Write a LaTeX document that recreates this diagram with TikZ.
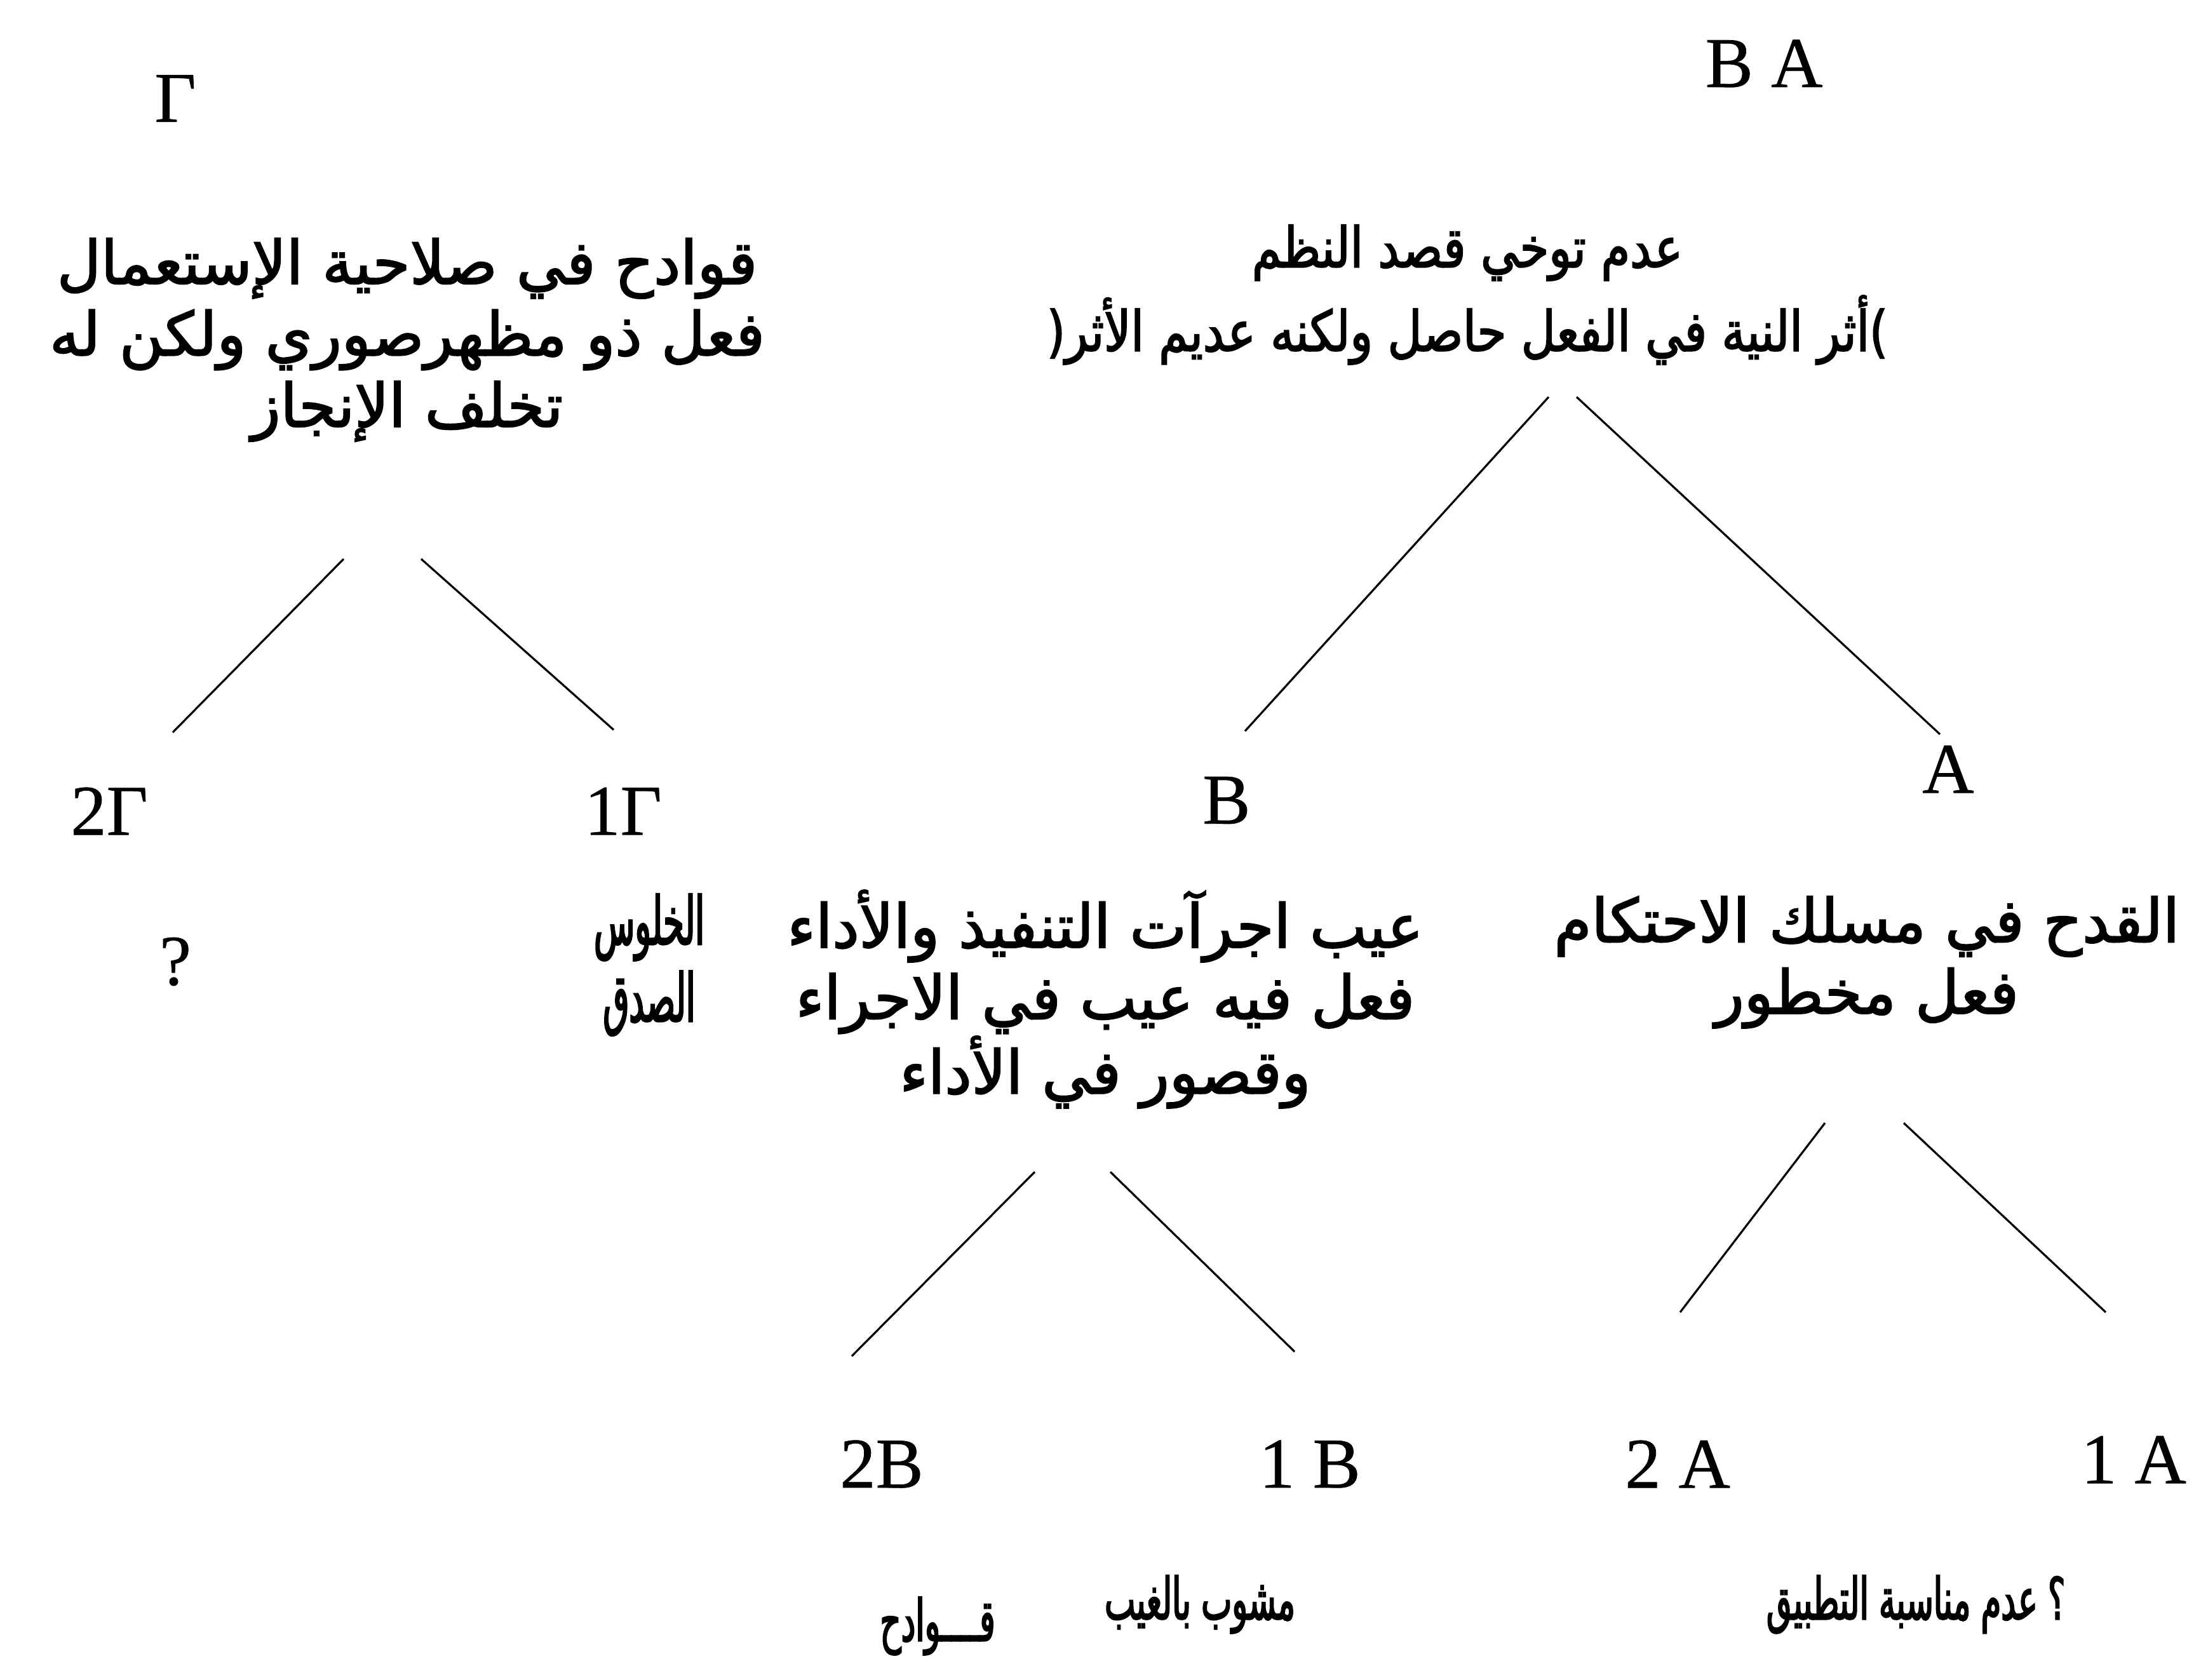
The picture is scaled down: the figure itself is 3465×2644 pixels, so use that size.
\documentclass[tikz,border=0pt]{standalone}
\usepackage{fontspec}
\setmainfont{Liberation Serif}[FakeBold=0.6]
\newfontfamily\arabicfont[Script=Arabic,FakeBold=2.2]{DejaVu Sans}
\newfontfamily\arabicmid[Script=Arabic,FakeBold=2.2,FakeStretch=0.84]{DejaVu Sans}
\newfontfamily\arabiccond[Script=Arabic,FakeBold=2.2,FakeStretch=0.56]{DejaVu Sans}
\newfontfamily\arabicnarrow[Script=Arabic,FakeBold=2.2,FakeStretch=0.5]{DejaVu Sans}
\TeXXeTstate=1
\usetikzlibrary{calc}
\newcommand{\artxt}[1]{{\beginR #1\endR}}
\begin{document}
\begin{tikzpicture}[x=0.01cm,y=-0.01cm,
  lat/.style={font=\fontsize{32}{38}\selectfont, inner sep=0pt},
  arb/.style={font=\arabicfont\fontsize{27}{32}\selectfont, align=center, inner sep=0pt},
  arbtop/.style={arb, font=\arabicmid\fontsize{25}{37.5}\selectfont},
  arbsmall/.style={arb, font=\arabiccond\fontsize{26}{34.5}\selectfont},
  arbnarrow/.style={arb, font=\arabicnarrow\fontsize{30}{34.5}\selectfont},
  link/.style={line width=0.9pt}]
\useasboundingbox (0,0) rectangle (3465,2644);
% top labels
\node[lat] (gam) at (276,155) {Γ};
\node[lat] (ba) at (2777,100) {B A};
% level 1 texts
\node[arb] (lt) at (641,535) {\artxt{قوادح في صلاحية الإستعمال}\\\artxt{فعل ذو مظهرصوري ولكن له}\\\artxt{تخلف الإنجاز}};
\node[arbtop] (rt) at (2310,464) {\artxt{عدم توخي قصد النظم}\\\artxt{)أثر النية في الفعل حاصل ولكنه عديم الأثر(}};
% level 2 labels
\node[lat] (g2) at (172,1277) {2Γ};
\node[lat] (g1) at (981,1277) {1Γ};
\node[lat] (nB) at (1931,1260) {B};
\node[lat] (nA) at (3067,1211) {A};
\node[lat] (q) at (276,1514) {?};
\node[arbnarrow] (khl) at (1022,1519) {\artxt{الخلوس}\\\artxt{الصدق}};
\node[arb] (bt) at (1740,1573) {\artxt{عيب اجرآت التنفيذ والأداء}\\\artxt{فعل فيه عيب في الاجراء}\\\artxt{وقصور في الأداء}};
\node[arb] (at) at (2939,1515) {\artxt{القدح في مسلك الاحتكام}\\\artxt{فعل مخطور}};
% level 3 labels
\node[lat] (b2) at (1388,2305) {2B};
\node[lat] (b1) at (2062,2305) {1 B};
\node[lat] (a2) at (2641,2305) {2 A};
\node[lat] (a1) at (3359,2298) {1 A};
\node[arbsmall] (l1) at (1476,2560) {\artxt{قــــوادح}};
\node[arbsmall] (l2) at (1889,2526) {\artxt{مشوب بالغيب}};
\node[arbsmall] (l3) at (3016,2526) {\artxt{؟ عدم مناسبة التطبيق}};
% connectors
\draw[link] ($(lt)+(-100,345)$) -- ($(g2)+(100,-124)$);
\draw[link] ($(lt)+(22,345)$) -- ($(g1)+(-15,-128)$);
\draw[link] ($(rt)+(128,161)$) -- ($(nB)+(29,-109)$);
\draw[link] ($(rt)+(172,161)$) -- ($(nA)+(-13,-55)$);
\draw[link] ($(bt)+(-111,272)$) -- ($(b2)+(-47,-170)$);
\draw[link] ($(bt)+(8,272)$) -- ($(b1)+(-24,-177)$);
\draw[link] ($(at)+(-66,253)$) -- ($(a2)+(4,-239)$);
\draw[link] ($(at)+(58,253)$) -- ($(a1)+(-44,-232)$);
\end{tikzpicture}
\end{document}
